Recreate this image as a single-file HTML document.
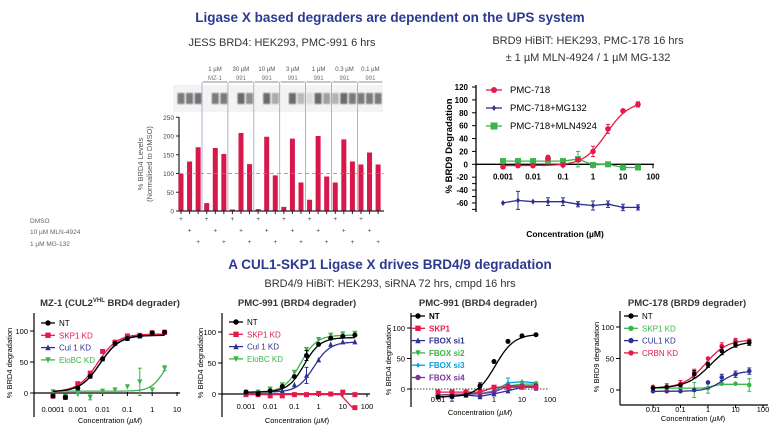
<!DOCTYPE html>
<html><head><meta charset="utf-8">
<style>
html,body{margin:0;padding:0;background:#fff;}
body{width:781px;height:425px;overflow:hidden;font-family:"Liberation Sans",sans-serif;}
svg{display:block}
</style></head>
<body>
<svg id="s" width="781" height="425" xmlns="http://www.w3.org/2000/svg" font-family="Liberation Sans, sans-serif">
<defs><filter id="bl"><feGaussianBlur stdDeviation="0.8"/></filter></defs>
<text x="390" y="22" text-anchor="middle" font-size="13.5" font-weight="bold" fill="#2b3990">Ligase X  based degraders are dependent on the UPS system</text>
<text x="282" y="46" text-anchor="middle" font-size="11" fill="#333">JESS BRD4: HEK293, PMC-991 6 hrs</text>
<text x="588" y="44" text-anchor="middle" font-size="11" fill="#333">BRD9 HiBiT: HEK293, PMC-178 16 hrs</text>
<text x="588" y="61" text-anchor="middle" font-size="11" fill="#333">± 1 µM MLN-4924 / 1 µM MG-132</text>
<text x="390" y="269" text-anchor="middle" font-size="13.5" font-weight="bold" fill="#2b3990">A CUL1-SKP1 Ligase X drives BRD4/9 degradation</text>
<text x="390" y="287" text-anchor="middle" font-size="11" fill="#333">BRD4/9 HiBiT: HEK293, siRNA 72 hrs, cmpd 16 hrs</text>
<g id="g"></g>
</svg>
<script>
var o='';
function L(x1,y1,x2,y2,c,w,d){o+='<line x1="'+x1+'" y1="'+y1+'" x2="'+x2+'" y2="'+y2+'" stroke="'+(c||'#000')+'" stroke-width="'+(w||1)+'"'+(d?' stroke-dasharray="'+d+'"':'')+'/>';}
function T(x,y,t,s,a,c,w,extra){o+='<text x="'+x+'" y="'+y+'" font-size="'+s+'" text-anchor="'+(a||'start')+'" fill="'+(c||'#000')+'"'+(w?' font-weight="bold"':'')+(extra||'')+'>'+t+'</text>';}
function R(x,y,w,h,c,ex){o+='<rect x="'+x+'" y="'+y+'" width="'+w+'" height="'+h+'" fill="'+c+'"'+(ex||'')+'/>';}
function M(x,y,t,c,r){r=r||2.5;
 if(t=='c')o+='<circle cx="'+x+'" cy="'+y+'" r="'+r+'" fill="'+c+'"/>';
 else if(t=='s')R(x-r,y-r,2*r,2*r,c);
 else if(t=='u')o+='<polygon points="'+x+','+(y-r-0.5)+' '+(x-r)+','+(y+r)+' '+(x+r)+','+(y+r)+'" fill="'+c+'"/>';
 else if(t=='v')o+='<polygon points="'+x+','+(y+r+0.5)+' '+(x-r)+','+(y-r)+' '+(x+r)+','+(y-r)+'" fill="'+c+'"/>';
 else if(t=='d')o+='<polygon points="'+x+','+(y-r)+' '+(x+r*0.7)+','+y+' '+x+','+(y+r)+' '+(x-r*0.7)+','+y+'" fill="'+c+'"/>';}
function P(pts,c,w){o+='<polyline points="'+pts.join(' ')+'" fill="none" stroke="'+c+'" stroke-width="'+(w||1.3)+'"/>';}
function sig(b,t,ec,h){return function(l){return b+(t-b)/(1+Math.pow(10,(ec-l)*h));};}
function series(X,Y,logs,vals,c,m,f,l0,l1,errs,r){
 var pts=[];
 if(f){for(var l=l0;l<=l1+1e-9;l+=0.05)pts.push(X(l).toFixed(1)+','+Y(f(l)).toFixed(1));}
 else{for(var i=0;i<logs.length;i++)pts.push(X(logs[i]).toFixed(1)+','+Y(vals[i]).toFixed(1));}
 P(pts,c);
 for(var i=0;i<logs.length;i++){var x=X(logs[i]),y=Y(vals[i]);
  if(errs&&errs[i]){L(x,Y(vals[i]-errs[i]),x,Y(vals[i]+errs[i]),c,1);L(x-2,Y(vals[i]-errs[i]),x+2,Y(vals[i]-errs[i]),c,1);L(x-2,Y(vals[i]+errs[i]),x+2,Y(vals[i]+errs[i]),c,1);}
  M(x,y,m,c,r);}
}
// ---------- Bar chart ----------
R(173,85,210,27,'#f3f3f3');
var vals=[99,132,170,21,168,152,4,208,125,5,198,95,11,193,76,30,200,92,76,191,132,124,156,124];
var Yb=function(v){return 211-v*0.375;};
L(179,117,179,211,'#222',1.2);
[0,50,100,150,200,250].forEach(function(v){L(176,Yb(v),179,Yb(v),'#222');T(174,Yb(v)+2.5,v,6.5,'end','#444');});
for(var i=0;i<24;i++){var x=181+i*8.57;
 var band=[0.65,0.65,0.7,0,0.65,0.65,0,0.75,0.55,0,0.75,0.4,0,0.75,0.3,0.12,0.75,0.45,0.35,0.75,0.65,0.65,0.65,0.65][i];
 if(band>0)R(x-3.5,93,7,11,'rgba(60,60,60,'+band+')',' filter="url(#bl)"');
 R(x-2.5,Yb(vals[i]),5,211-Yb(vals[i]),'#d6184a');
 L(x,211,x,214,'#222');
 var row=i%3;T(x,221+row*11.5,'+',6.5,'middle','#444');
}
L(179,211,384,211,'#222',1.2);
L(179,Yb(100),384,Yb(100),'#888',0.8,'4,3');
var labs=[['1 µM','MZ-1'],['30 µM','991'],['10 µM','991'],['3 µM','991'],['1 µM','991'],['0.3 µM','991'],['0.1 µM','991']];
for(var g=0;g<7;g++){var x0=202+g*25.9;L(x0,82,x0,211,'#9aa0c8',0.8);
 var cx=x0+13;L(x0+1,82,x0+25,82,'#666',0.7);
 T(cx,71,labs[g][0],6,'middle','#555');T(cx,80,labs[g][1],6,'middle','#777');}
T(30,223,'DMSO',6.5,'start','#666');T(30,234,'10 µM MLN-4924',6.5,'start','#666');T(30,246,'1 µM MG-132',6.5,'start','#666');
o+='<text transform="translate(143,164) rotate(-90)" font-size="7.5" text-anchor="middle" fill="#555">% BRD4 Levels</text>';
o+='<text transform="translate(152,164) rotate(-90)" font-size="7.5" text-anchor="middle" fill="#555">(Normalised to DMSO)</text>';
// ---------- Top right chart ----------
(function(){
var X=function(l){return 503+(l+3)*30;},Y=function(v){return 164.3-v*0.644;};
L(476,85,476,212,'#000',1.3);
[120,100,80,60,40,20,0,-20,-40,-60].forEach(function(v){L(472,Y(v),476,Y(v));T(468,Y(v)+3,v,8,'end','#000',1);});
[-20,-40,-60].forEach(function(v){L(472,Y(v-10),476,Y(v-10));});
L(476,Y(0),654,Y(0),'#000',1.3);
var tl=['0.001','0.01','0.1','1','10','100'];
for(var k=0;k<6;k++){L(X(-3+k),Y(0),X(-3+k),Y(0)+4);T(X(-3+k),Y(0)+15,tl[k],8,'middle','#000',1);}
o+='<text transform="translate(452,146) rotate(-90)" font-size="9.5" font-weight="bold" text-anchor="middle">% BRD9 Degradation</text>';
T(565,237,'Concentration (µM)',8.5,'middle','#000',1);
var logs=[];for(var i=0;i<10;i++)logs.push(-3+i*0.5);
series(X,Y,logs,[5,5,5,5,5,8,-1,0,-5,-5],'#3cb44b','s',null,0,0,[0,0,0,0,0,12,0,0,0,0],3);
series(X,Y,logs,[-60,-56,-58,-58,-58,-62,-64,-62,-67,-67],'#2e3192','d',null,0,0,[0,14,0,6,6,4,7,5,5,4],3);
series(X,Y,logs,[-4,-2,-2,10,-1,7,20,55,83,93],'#e6194b','c',sig(-2,98,0.45,1.15),-3,1.5,[0,0,0,4,0,3,8,7,0,4],2.8);
P(['486,90','502,90'],'#e6194b');M(494,90,'c','#e6194b',3);T(510,93,'PMC-718',9.5,'start','#000');
P(['486,108','502,108'],'#2e3192');M(494,108,'d','#2e3192',3);T(510,111,'PMC-718+MG132',9.5,'start','#000');
P(['486,126','502,126'],'#3cb44b');M(494,126,'s','#3cb44b',3.5);T(510,129,'PMC-718+MLN4924',9.5,'start','#000');
})();
function leg(x,y,items,bold){for(var i=0;i<items.length;i++){var yy=y+i*12.3;P([(x-6)+','+yy,(x+8)+','+yy],items[i][1]);M(x+1,yy,items[i][2],items[i][1],2.7);T(x+12,yy+3,items[i][0],8,'start',items[i][3]||items[i][1],bold);}}
// chart1
(function(){var X=function(l){return 53+(l+4)*24.8;},Y=function(v){return 393-v*0.62;};
T(110,306,'MZ-1 (CUL2<tspan font-size="6" dy="-4">VHL</tspan><tspan dy="4"> BRD4 degrader)</tspan>',9.5,'middle','#333',1);
L(34,313,34,417,'#000',1.2);[0,50,100].forEach(function(v){L(30,Y(v),34,Y(v));T(28,Y(v)+3,v,7.5,'end');});
var tk=[-4,-3,-2,-1,0,1],tl=['0.0001','0.001','0.01','0.1','1','10'];
for(var k=0;k<6;k++){L(X(tk[k]),Y(0)-1,X(tk[k]),Y(0)+3);T(X(tk[k]),412,tl[k],7.5,'middle');}
L(34,Y(0),180,Y(0),'#000',1.2);
o+='<text transform="translate(12,363) rotate(-90)" font-size="7.5" text-anchor="middle">% BRD4 degradation</text>';
T(110,423,'Concentration (<tspan font-style="italic">µM</tspan>)',7.5,'middle');
var logs=[];for(var i=0;i<10;i++)logs.push(-4+i*0.5);
series(X,Y,logs,[2,-5,-2,-7,3,5,10,18,5,40],'#3cb44b','v',sig(3,70,0.5,1.6),-4,0.5,[0,0,0,4,0,0,0,22,0,4]);
series(X,Y,logs,[-5,-7,8,27,55,80,88,92,97,98],'#2e3192','u',sig(2,94,-2.1,1.1),-4,0.5);
series(X,Y,logs,[-5,-7,15,32,67,82,92,93,97,98],'#e6194b','s',sig(2,95,-2.2,1.1),-4,0.5);
series(X,Y,logs,[-5,-7,8,27,55,80,88,92,97,98],'#000','c',sig(2,93,-2.1,1.1),-4,0.5);
leg(47,323,[['NT','#000','c','#000'],['SKP1 KD','#e6194b','s'],['Cul 1 KD','#2e3192','u'],['EloBC KD','#3cb44b','v']]);
})();
// chart2
(function(){var X=function(l){return 246+(l+3)*24.2;},Y=function(v){return 394-v*0.62;};
T(297,306,'PMC-991 (BRD4 degrader)',9.5,'middle','#333',1);
L(222,313,222,417,'#000',1.2);[0,50,100].forEach(function(v){L(218,Y(v),222,Y(v));T(216,Y(v)+3,v,7.5,'end');});
var tk=[-3,-2,-1,0,1,2],tl=['0.001','0.01','0.1','1','10','100'];
L(222,Y(0),370,Y(0),'#000',1.2);
for(var k=0;k<6;k++){L(X(tk[k]),Y(0),X(tk[k]),Y(0)+3);T(X(tk[k]),409,tl[k],7.5,'middle');}
o+='<text transform="translate(203,363) rotate(-90)" font-size="7.5" text-anchor="middle">% BRD4 degradation</text>';
T(297,423,'Concentration (<tspan font-style="italic">µM</tspan>)',7.5,'middle');
var logs=[];for(var i=0;i<10;i++)logs.push(-3+i*0.5);
series(X,Y,logs,[-1,-1,-3,-3,-1,-1,1,0,3,-1],'#e6194b','s',function(l){return l<0.9?-1:-1-21*Math.min(1,(l-0.9)/0.5);},-3,1.5);
M(X(1.5),Y(-22),'s','#e6194b');
series(X,Y,logs,[3,3,8,15,35,72,88,95,97,98],'#3cb44b','v',sig(3,95,-0.75,1.3),-3,1.5);
series(X,Y,logs,[3,2,3,5,15,30,55,80,84,84],'#2e3192','u',sig(3,84,-0.2,1.3),-3,1.5,[0,0,0,0,0,13,0,0,0,0]);
series(X,Y,logs,[3,0,5,12,28,62,80,90,93,95],'#000','c',sig(3,91,-0.6,1.3),-3,1.5,[0,0,0,0,0,8,0,0,0,0]);
leg(235,322,[['NT','#000','c','#000'],['SKP1 KD','#e6194b','s'],['Cul 1 KD','#2e3192','u'],['EloBC KD','#3cb44b','v']]);
})();
// chart3
(function(){var X=function(l){return 494+l*28;},Y=function(v){return 389-v*0.61;};
T(478,306,'PMC-991 (BRD4 degrader)',9.5,'middle','#333',1);
L(411,313,411,407,'#000',1.2);[0,50,100].forEach(function(v){L(407,Y(v),411,Y(v));T(405,Y(v)+3,v,7.5,'end');});
L(411,Y(0),549,Y(0),'#000',0.7,'1.5,1.5');
var tk=[-2,0,1,2],tl=['0.01','1','10','100'];
for(var k=0;k<4;k++){T(X(tk[k]),402,tl[k],7.5,'middle');}
o+='<text transform="translate(391,360) rotate(-90)" font-size="7.5" text-anchor="middle">% BRD4 degradation</text>';
T(480,415,'Concentration (<tspan font-style="italic">µM</tspan>)',7.5,'middle');
var logs=[];for(var i=0;i<8;i++)logs.push(-2+i*0.5);
series(X,Y,logs,[-10,-9,-9,-8,-3,10,12,10],'#00a0e0','d',null,0,0,[0,0,0,0,0,8,0,0]);
series(X,Y,logs,[-10,-9,-8,-5,2,5,8,8],'#3cb44b','v',null);
series(X,Y,logs,[-10,-9,-8,-8,-5,5,5,5],'#7b3294','c',null);
series(X,Y,logs,[-13,-12,-10,-12,-8,-3,3,3],'#2e3192','u',null,0,0,[0,8,0,4,0,0,0,5]);
series(X,Y,logs,[-5,-5,-5,-5,3,3,3,3],'#e6194b','s',null);
series(X,Y,logs,[-13,-12,-10,5,45,78,87,89],'#000','c',sig(-13,90,0.05,1.3),-2,1.5,[0,0,0,5,0,0,0,0]);
leg(417,316,[['NT','#000','c'],['SKP1','#e6194b','s'],['FBOX si1','#2e3192','u'],['FBOX si2','#3cb44b','v'],['FBOX si3','#00a0e0','d'],['FBOX si4','#7b3294','c']],1);
})();
// chart4
(function(){var X=function(l){return 653+(l+2)*27.5;},Y=function(v){return 390-v*0.63;};
T(687,306,'PMC-178 (BRD9 degrader)',9.5,'middle','#333',1);
L(620,311,620,405,'#000',1.2);[0,50,100].forEach(function(v){L(616,Y(v),620,Y(v));T(614,Y(v)+3,v,7.5,'end');});
L(620,405,768,405,'#000',1.2);
var tk=[-2,-1,0,1,2],tl=['0.01','0.1','1','10','100'];
for(var k=0;k<5;k++){L(X(tk[k]),405,X(tk[k]),408);T(X(tk[k]),412,tl[k],7.5,'middle');}
o+='<text transform="translate(599,357) rotate(-90)" font-size="7.5" text-anchor="middle">% BRD9 degradation</text>';
T(693,421,'Concentration (<tspan font-style="italic">µM</tspan>)',7.5,'middle');
var logs=[];for(var i=0;i<8;i++)logs.push(-2+i*0.5);
series(X,Y,logs,[3,3,3,0,3,10,10,8],'#3cb44b','c',function(l){return l<-0.2?3:3+6*Math.min(1,(l+0.2)/0.7);},-2,1.5,[0,0,0,12,8,0,0,10],2.3);
series(X,Y,logs,[-2,-2,-2,0,12,20,25,30],'#2e3192','c',sig(-2,30,0.5,1.5),-2,1.5,[0,0,0,0,0,5,5,5],2.3);
series(X,Y,logs,[5,5,10,28,50,70,78,78],'#e6194b','c',sig(3,80,-0.1,1.1),-2,1.5,[0,5,5,5,0,5,4,3],2.3);
series(X,Y,logs,[3,5,8,25,40,62,72,75],'#000','c',sig(3,78,0.1,1.0),-2,1.5,[0,0,0,6,4,6,4,4],2.3);
leg(630,316,[['NT','#000','c','#000'],['SKP1 KD','#3cb44b','c'],['CUL1 KD','#2e3192','c'],['CRBN KD','#e6194b','c']]);
})();
document.getElementById('g').innerHTML=o;
</script>
</body></html>
